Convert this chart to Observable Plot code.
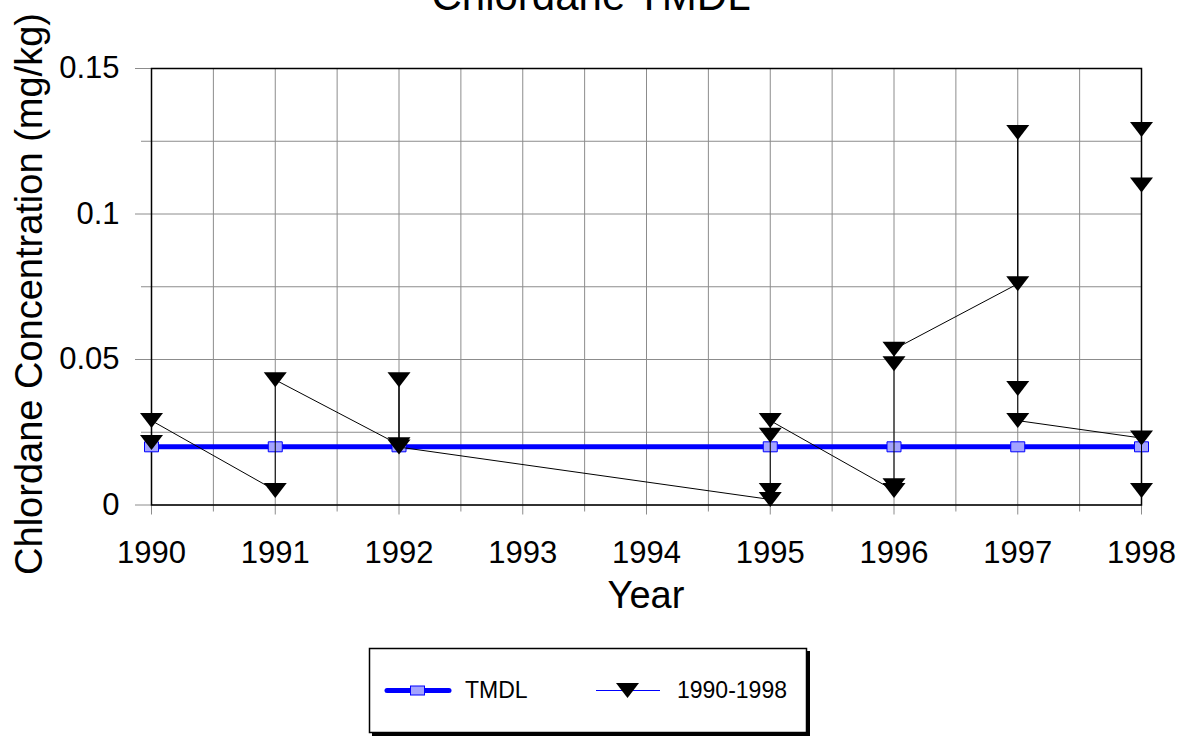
<!DOCTYPE html>
<html>
<head>
<meta charset="utf-8">
<script src="https://cdn.jsdelivr.net/npm/d3@7"></script>
<script src="https://cdn.jsdelivr.net/npm/@observablehq/plot@0.6"></script>
<style>
  html, body { margin: 0; padding: 0; background: #fff; }
  #wrap { position: relative; width: 1185px; height: 736px; overflow: hidden; font-family: "Liberation Sans", Arial, sans-serif; }
  #chart { position: absolute; left: 0; top: 0; }
  #legend { position: absolute; left: 0; top: 0; }
</style>
</head>
<body>
<div id="wrap">
  <div id="chart"></div>
  <svg id="legend" width="1185" height="736"></svg>
</div>
<script>
// ---- Data ----
const titleText = "Chlordane TMDL";
const xTitle = "Year";
const yTitle = "Chlordane Concentration (mg/kg)";

const tmdlYears  = [1990, 1991, 1992, 1995, 1996, 1997, 1998];
const tmdlValues = [0.02, 0.02, 0.02, 0.02, 0.02, 0.02, 0.02];

const seriesYears  = [1990, 1990, 1991, 1991, 1992, 1992, 1992, 1995, 1995, 1995, 1995,
                      1996, 1996, 1996, 1996, 1997, 1997, 1997, 1997, 1998, 1998, 1998, 1998];
const seriesValues = [0.0215, 0.029, 0.005, 0.043, 0.0207, 0.043, 0.0199, 0.0019, 0.005, 0.024, 0.029,
                      0.005, 0.0066, 0.0485, 0.0535, 0.076, 0.128, 0.040, 0.029, 0.023, 0.005, 0.110, 0.129];

const xMajorTicks = [1990, 1991, 1992, 1993, 1994, 1995, 1996, 1997, 1998];
const xMinorTicks = [1990.5, 1991.5, 1992.5, 1993.5, 1994.5, 1995.5, 1996.5, 1997.5];
const yMajorTicks = [0, 0.05, 0.1, 0.15];
const yTickLabels = ["0", "0.05", "0.1", "0.15"];
const yMinorTicks = [0.025, 0.075, 0.125];

const legendNames = ["TMDL", "1990-1998"];

// ---- Tables ----
const tmdl = tmdlYears.map((x, i) => ({x, y: tmdlValues[i]}));
const series = seriesYears.map((x, i) => ({x, y: seriesValues[i]}));

const triDown = { draw(ctx) { ctx.moveTo(-11.5, -7.5); ctx.lineTo(11.5, -7.5); ctx.lineTo(0, 7.5); ctx.closePath(); } };
const rectSym = { draw(ctx) { ctx.rect(-7, -5, 14, 10); } };

const grid = "#8c8c8c";

const chart = Plot.plot({
  width: 1185,
  height: 736,
  marginLeft: 151,
  marginRight: 44,
  marginTop: 68,
  marginBottom: 231.5,
  style: { fontFamily: '"Liberation Sans", Arial, sans-serif', background: "white", color: "black" },
  x: { domain: [1990, 1998] },
  y: { domain: [0, 0.15] },
  marks: [
    Plot.gridX(xMajorTicks.concat(xMinorTicks), { stroke: grid, strokeOpacity: 1 }),
    Plot.gridY(yMajorTicks.concat(yMinorTicks), { stroke: grid, strokeOpacity: 1 }),
    Plot.axisX(xMajorTicks, { tickSize: 10, tickPadding: 25.5, fontSize: 31, tickFormat: d => String(d), stroke: grid, fill: "black", label: null }),
    Plot.axisX(xMinorTicks, { tickSize: 7, tickFormat: () => "", stroke: grid, label: null }),
    Plot.axisY(yMajorTicks, { tickSize: 16, tickPadding: 16, fontSize: 31, tickFormat: (d) => yTickLabels[yMajorTicks.indexOf(d)], stroke: grid, fill: "black", label: null }),
    Plot.axisY(yMinorTicks, { tickSize: 10, tickFormat: () => "", stroke: grid, label: null }),
    Plot.frame({ stroke: "black", strokeWidth: 1.5 }),
    Plot.line(tmdl, { x: "x", y: "y", stroke: "#0000ff", strokeWidth: 5 }),
    Plot.dot(tmdl, { x: "x", y: "y", symbol: rectSym, fill: "#a3a3ff", stroke: "#0000ff", strokeWidth: 1 }),
    Plot.line(series, { x: "x", y: "y", stroke: "black", strokeWidth: 1 }),
    Plot.dot(series, { x: "x", y: "y", symbol: triDown, fill: "black", stroke: "none" })
  ]
});
document.getElementById("chart").appendChild(chart);

// Titles
const svg = d3.select(chart);
svg.append("text").attr("x", 591).attr("y", 10).attr("text-anchor", "middle")
  .attr("font-size", 42).attr("fill", "black").text(titleText);
svg.append("text").attr("x", 646).attr("y", 608).attr("text-anchor", "middle")
  .attr("font-size", 38).attr("fill", "black").text(xTitle);
svg.append("text").attr("transform", "translate(42,294) rotate(-90)").attr("text-anchor", "middle")
  .attr("font-size", 38).attr("fill", "black").text(yTitle);

// Legend
const lg = d3.select("#legend").style("font-family", '"Liberation Sans", Arial, sans-serif');
lg.append("rect").attr("x", 372).attr("y", 651).attr("width", 438).attr("height", 85).attr("fill", "black");
lg.append("rect").attr("x", 369.5).attr("y", 648.5).attr("width", 437).attr("height", 84).attr("fill", "white").attr("stroke", "black").attr("stroke-width", 1.5);
lg.append("line").attr("x1", 387).attr("x2", 449).attr("y1", 690.5).attr("y2", 690.5).attr("stroke", "#0000ff").attr("stroke-width", 5).attr("stroke-linecap", "round");
lg.append("rect").attr("x", 410.5).attr("y", 686).attr("width", 14).attr("height", 9).attr("fill", "#a3a3ff").attr("stroke", "#0000ff");
lg.append("text").attr("x", 465).attr("y", 697.5).attr("font-size", 23).attr("fill", "black").text(legendNames[0]);
lg.append("line").attr("x1", 596).attr("x2", 660).attr("y1", 690.5).attr("y2", 690.5).attr("stroke", "#0000ff").attr("stroke-width", 1);
lg.append("path").attr("d", "M616,683 L639,683 L627.5,698 Z").attr("fill", "black");
lg.append("text").attr("x", 677).attr("y", 697.5).attr("font-size", 23).attr("fill", "black").text(legendNames[1]);
</script>
</body>
</html>
